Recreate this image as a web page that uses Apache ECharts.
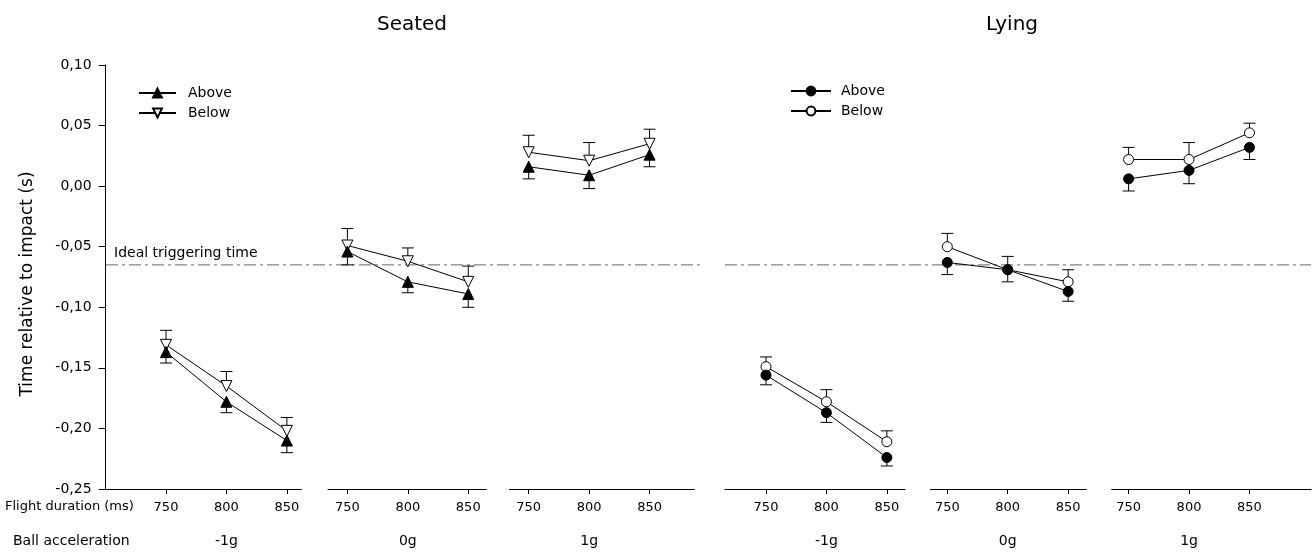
<!DOCTYPE html>
<html>
<head>
<meta charset="utf-8">
<script src="https://cdn.jsdelivr.net/npm/echarts@6/dist/echarts.min.js"></script>
<style>
html,body{margin:0;padding:0;background:#fff;}
#chart{width:1313px;height:555px;}
</style>
</head>
<body>
<div id="chart"></div>
<script>
// ---------- DATA ----------
const durations = [750, 800, 850];
const groups = ['-1g', '0g', '1g'];
const panelTitles = ['Seated', 'Lying'];
const yTicks = [-0.25, -0.20, -0.15, -0.10, -0.05, 0.00, 0.05, 0.10];
const idealTime = -0.065;

// 9 values each: -1g(750,800,850), 0g(750,800,850), 1g(750,800,850)
const seatedAbove   = [-0.137, -0.178, -0.210, -0.054, -0.079, -0.089, 0.016, 0.009, 0.026];
const seatedAboveSE = [ 0.009,  0.009,  0.010,  0.011,  0.009,  0.011, 0.010, 0.011, 0.010];
const seatedBelow   = [-0.131, -0.165, -0.202, -0.049, -0.062, -0.079, 0.028, 0.021, 0.035];
const seatedBelowSE = [ 0.012,  0.012,  0.011,  0.014,  0.011,  0.013, 0.014, 0.015, 0.012];

const lyingAbove    = [-0.156, -0.187, -0.224, -0.063, -0.069, -0.087, 0.006, 0.013, 0.032];
const lyingAboveSE  = [ 0.008,  0.008,  0.007,  0.010,  0.010,  0.008, 0.010, 0.011, 0.010];
const lyingBelow    = [-0.149, -0.178, -0.211, -0.050, -0.069, -0.079, 0.022, 0.022, 0.044];
const lyingBelowSE  = [ 0.008,  0.010,  0.009,  0.011,  0.011,  0.010, 0.010, 0.014, 0.008];

// ---------- LAYOUT ----------
const FONT = '"DejaVu Sans", "Liberation Sans", sans-serif';
const pxPerMs = 60.43 / 50;
const gridTop = 65, gridHeight = 424;
const panels = [
  { titleX: 412, origins: [166, 347.4, 528.7],
    ranges: [[700, 862], [734, 865], [734, 887]],
    above: seatedAbove, aboveSE: seatedAboveSE, below: seatedBelow, belowSE: seatedBelowSE,
    aboveName: 'Above', belowName: 'Below', sym: 'triangle',
    refLeft: 106, refWidth: 596 },
  { titleX: 1012, origins: [766, 947.3, 1128.6],
    ranges: [[716, 865], [736, 865], [736, 901]],
    above: lyingAbove, aboveSE: lyingAboveSE, below: lyingBelow, belowSE: lyingBelowSE,
    aboveName: 'Above ', belowName: 'Below ', sym: 'circle',
    refLeft: 725, refWidth: 586 }
];

const grid = [], xAxis = [], yAxis = [], series = [];
const fmtY = v => v.toFixed(2).replace('.', ',');

function errorSeries(idx, pts, dir) {
  return {
    type: 'custom', xAxisIndex: idx, yAxisIndex: idx, z: 1, silent: true,
    data: pts,
    renderItem: function (params, api) {
      const x = api.value(0), y = api.value(1), e = api.value(2);
      const p0 = api.coord([x, y]);
      const p1 = api.coord([x, y + dir * e]);
      const st = { stroke: '#000', lineWidth: 1 };
      return { type: 'group', children: [
        { type: 'line', shape: { x1: p0[0], y1: p0[1], x2: p1[0], y2: p1[1] }, style: st },
        { type: 'line', shape: { x1: p1[0] - 6, y1: p1[1], x2: p1[0] + 6, y2: p1[1] }, style: st }
      ]};
    }
  };
}

panels.forEach((P, pi) => {
  groups.forEach((gname, g) => {
    const idx = grid.length;
    const [mn, mx] = P.ranges[g];
    grid.push({ left: P.origins[g] + (mn - 750) * pxPerMs, width: (mx - mn) * pxPerMs,
                top: gridTop, height: gridHeight, containLabel: false });
    xAxis.push({
      type: 'value', gridIndex: idx, min: mn, max: mx,
      axisLine: { show: true, onZero: false, lineStyle: { color: '#000', width: 1 } },
      axisTick: { show: true, length: 5, lineStyle: { color: '#000' }, customValues: durations },
      splitLine: { show: false },
      axisLabel: {
        customValues: durations, margin: 11, color: '#000', fontFamily: FONT, fontSize: 13,
        formatter: v => (v === durations[1] ? '{a|' + v + '}\n{b|' + gname + '}' : '{a|' + v + '}'),
        rich: { a: { fontSize: 13, lineHeight: 16, fontFamily: FONT, color: '#000' },
                b: { fontSize: 14, lineHeight: 50, fontFamily: FONT, color: '#000' } }
      }
    });
    const showY = (pi === 0 && g === 0);
    yAxis.push({
      type: 'value', gridIndex: idx, min: yTicks[0], max: yTicks[yTicks.length - 1], interval: 0.05,
      show: showY,
      axisLine: { show: true, lineStyle: { color: '#000', width: 1 } },
      axisTick: { show: true, length: 7, lineStyle: { color: '#000' } },
      splitLine: { show: false },
      axisLabel: { formatter: fmtY, margin: 14, color: '#000', fontFamily: FONT, fontSize: 14 }
    });
    const aPts = durations.map((d, i) => [d, P.above[g * 3 + i]]);
    const bPts = durations.map((d, i) => [d, P.below[g * 3 + i]]);
    series.push(errorSeries(idx, durations.map((d, i) => [d, P.above[g * 3 + i], P.aboveSE[g * 3 + i]]), -1));
    series.push(errorSeries(idx, durations.map((d, i) => [d, P.below[g * 3 + i], P.belowSE[g * 3 + i]]), 1));
    series.push({
      type: 'line', name: P.aboveName, xAxisIndex: idx, yAxisIndex: idx, data: aPts, z: 3,
      symbol: P.sym, symbolSize: P.sym === 'circle' ? 10 : 11, showSymbol: true,
      lineStyle: { color: '#000', width: 1 },
      itemStyle: { color: '#000', borderColor: '#000', borderWidth: 1 },
      emphasis: { disabled: true }, animation: false
    });
    series.push({
      type: 'line', name: P.belowName, xAxisIndex: idx, yAxisIndex: idx, data: bPts, z: 2,
      symbol: P.sym, symbolSize: P.sym === 'circle' ? 10 : 11,
      symbolRotate: P.sym === 'triangle' ? 180 : 0, showSymbol: true,
      lineStyle: { color: '#000', width: 1 },
      itemStyle: { color: '#fff', borderColor: '#000', borderWidth: 1 },
      emphasis: { disabled: true }, animation: false
    });
  });
});

// reference line overlays (dash-dot ideal triggering time)
panels.forEach((P, pi) => {
  const idx = grid.length;
  grid.push({ left: P.refLeft, width: P.refWidth, top: gridTop, height: gridHeight });
  xAxis.push({ type: 'value', gridIndex: idx, min: 0, max: 1, show: false });
  yAxis.push({ type: 'value', gridIndex: idx, min: yTicks[0], max: yTicks[yTicks.length - 1], show: false });
  series.push({
    type: 'line', xAxisIndex: idx, yAxisIndex: idx, z: 0, silent: true,
    symbol: 'none', animation: false,
    lineStyle: { color: '#666', width: 1, type: [12, 4, 3, 4] },
    data: [[0, idealTime], [1, idealTime]]
  });
});

const option = {
  backgroundColor: '#fff',
  animation: false,
  textStyle: { fontFamily: FONT },
  grid, xAxis, yAxis, series,
  legend: [
    { orient: 'vertical', left: 138, top: 86, padding: 0, itemWidth: 37, itemHeight: 11, itemGap: 6,
      data: ['Above', 'Below'], selectedMode: false,
      textStyle: { fontSize: 14, fontFamily: FONT, color: '#000', padding: [0, 0, 0, 7] } },
    { orient: 'vertical', left: 790, top: 84, padding: 0, itemWidth: 40, itemHeight: 11, itemGap: 6,
      data: ['Above ', 'Below '], selectedMode: false,
      formatter: n => n.trim(),
      textStyle: { fontSize: 14, fontFamily: FONT, color: '#000', padding: [0, 0, 0, 5] } }
  ],
  graphic: [
    { type: 'text', x: panels[0].titleX, y: 25, style: { text: panelTitles[0], fill: '#000', font: '20px ' + FONT, textAlign: 'center', textVerticalAlign: 'middle' } },
    { type: 'text', x: panels[1].titleX, y: 25, style: { text: panelTitles[1], fill: '#000', font: '20px ' + FONT, textAlign: 'center', textVerticalAlign: 'middle' } },
    { type: 'text', x: 28, y: 284, rotation: Math.PI / 2, style: { text: 'Time relative to impact (s)', fill: '#000', font: '17px ' + FONT, textAlign: 'center', textVerticalAlign: 'middle' } },
    { type: 'text', x: 114, y: 253, style: { text: 'Ideal triggering time', fill: '#000', font: '14px ' + FONT, textAlign: 'left', textVerticalAlign: 'middle' } },
    { type: 'text', x: 5, y: 507, style: { text: 'Flight duration (ms)', fill: '#000', font: '13px ' + FONT, textAlign: 'left', textVerticalAlign: 'middle' } },
    { type: 'text', x: 13, y: 541, style: { text: 'Ball acceleration', fill: '#000', font: '14px ' + FONT, textAlign: 'left', textVerticalAlign: 'middle' } }
  ]
};

const chart = echarts.init(document.getElementById('chart'), null, { renderer: 'canvas' });
chart.setOption(option);
</script>
</body>
</html>
